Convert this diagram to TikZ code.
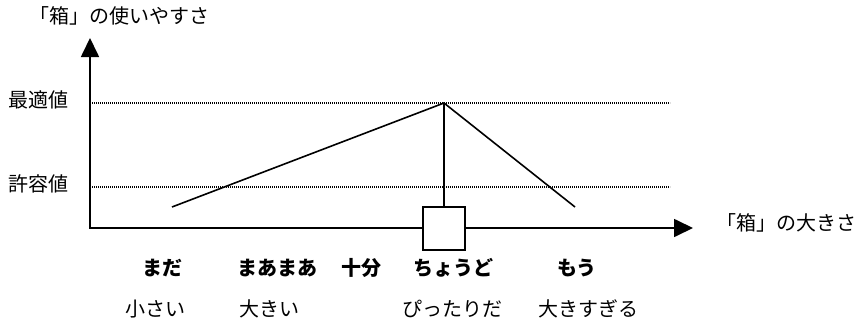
\documentclass[tikz,border=0pt]{standalone}
\usepackage{fontspec}
\setmainfont{Noto Sans CJK JP}
\usetikzlibrary{arrows.meta}
\tikzset{
  axis/.style={line width=1.7pt, -{Triangle[length=19pt,width=18pt]}},
  curve/.style={line width=1.6pt},
  level/.style={line width=1.2pt, dash pattern=on 1.2pt off 0.8pt},
  lbl/.style={inner sep=0pt, font=\fontsize{20}{24}\selectfont, text height=0.88em, text depth=0.12em},
  blbl/.style={lbl, font=\fontsize{20}{24}\selectfont\bfseries},
  sizebox/.style={draw, line width=1.5pt, fill=white, minimum width=42pt, minimum height=43pt, inner sep=0pt}
}
\begin{document}
\begin{tikzpicture}[x=1pt,y=-1pt]
\useasboundingbox (0,0) rectangle (862,324);
% axes
\coordinate (origin) at (90,228);
\coordinate (ytip) at (90,38);
\coordinate (xtip) at (693,228);
% levels
\coordinate (optL) at (90,103);
\coordinate (optR) at (670,103);
\coordinate (allL) at (90,187);
\coordinate (allR) at (670,187);
\draw[level] (optL) -- (optR);
\draw[level] (allL) -- (allR);
\draw[axis] ([yshift=0.85pt]origin) -- (ytip);
\draw[axis] ([xshift=-0.85pt]origin) -- (xtip);
% curve
\coordinate (peak) at (444,103);
\coordinate (lo) at (172,207);
\coordinate (ro) at (575,207);
\node[sizebox] (box) at (444,228.5) {};
\draw[curve] (lo) -- (peak) -- (ro);
\draw[curve] (peak) -- (box.north);
% labels
\node[lbl, anchor=west] (ylab) at (29,20) {「箱」の使いやすさ};
\node[lbl, anchor=west] (xlab) at (716,227) {「箱」の大きさ};
\node[lbl] (opt) at (39,104) {最適値};
\node[lbl] (all) at (39,188) {許容値};
% row 1
\node[blbl] (r1a) at (162,272) {まだ};
\node[blbl] (r1b) at (277,272) {まあまあ};
\node[blbl] (r1c) at (361,272) {十分};
\node[blbl] (r1d) at (453,272) {ちょうど};
\node[blbl] (r1e) at (577,272) {もう};
% row 2
\node[lbl] (r2a) at (155,313) {小さい};
\node[lbl] (r2b) at (269,313) {大きい};
\node[lbl] (r2d) at (452,313) {ぴったりだ};
\node[lbl] (r2e) at (588,313) {大きすぎる};
\end{tikzpicture}
\end{document}
